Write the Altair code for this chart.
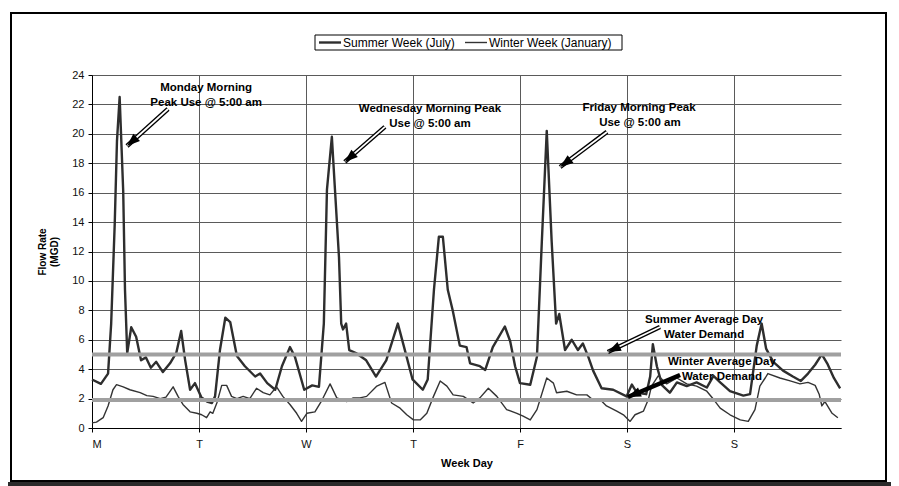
import math
import json
import altair as alt
import pandas as pd

# ---------------- data ----------------
day_labels = ["M", "T", "W", "T", "F", "S", "S"]
series_names = ["Summer Week (July)", "Winter Week (January)"]

summer_hours = [0, 2.0, 3.6, 4.3, 5.1, 5.6, 6.2, 7.0, 7.4, 7.9,
                8.8, 9.9, 11.0, 12.1, 13.2, 14.4, 15.9, 17.5, 18.9, 20.0,
                20.9, 22.0, 23.1, 24.5, 25.8, 26.9, 27.6, 28.7, 29.9, 31.0,
                32.5, 34.3, 36.6, 37.7, 39.3, 41.1, 42.6, 44.4, 45.5, 47.6,
                49.4, 50.9, 52.0, 52.7, 53.8, 54.5, 55.4, 55.9, 56.3, 57.0,
                57.7, 59.2, 61.5, 63.7, 66.0, 68.6, 70.0, 71.9, 74.2, 75.3,
                76.7, 77.8, 78.7, 79.8, 80.9, 82.5, 84.0, 84.8, 87.0, 88.2,
                89.9, 92.6, 93.8, 94.9, 96.0, 98.3, 99.8, 100.9, 102.0, 103.1,
                104.1, 104.8, 106.1, 107.6, 109.0, 110.1, 111.3, 112.4, 114.3, 116.9,
                119.9, 121.1, 122.2, 124.3, 125.2, 125.8, 126.7, 127.9, 129.6, 131.2,
                133.4, 135.6, 137.9, 139.4, 140.9, 143.1, 146.1, 147.6, 149.1, 150.2,
                151.2, 152.8, 155.0, 157.2, 159.0, 160.6, 162.2, 163.7, 164.9, 166.4,
                167.8]
summer_flow = [3.3, 3.0, 3.7, 7.1, 13.9, 19.5, 22.5, 16.1, 9.4, 5.1,
               6.85, 6.2, 4.6, 4.8, 4.1, 4.5, 3.8, 4.4, 5.1, 6.6,
               4.6, 2.6, 3.05, 2.1, 1.8, 1.7, 2.15, 5.3, 7.5, 7.2,
               4.9, 4.2, 3.5, 3.7, 3.05, 2.6, 4.2, 5.5, 4.85, 2.6,
               2.9, 2.8, 7.1, 16.2, 19.8, 16.2, 11.6, 7.1, 6.7, 7.1,
               5.3, 5.1, 4.6, 3.5, 4.6, 7.1, 5.5, 3.3, 2.6, 3.3,
               9.4, 13.0, 13.0, 9.4, 8.0, 5.6, 5.5, 4.4, 4.2, 3.95,
               5.5, 6.9, 5.9, 4.2, 3.05, 2.94, 4.85, 12.7, 20.2, 12.7,
               7.1, 7.75, 5.3, 6.0, 5.3, 5.75, 4.85, 3.9, 2.7, 2.6,
               2.15, 2.95, 2.4, 2.3, 3.5, 5.7, 4.2, 2.9, 2.4, 3.1,
               2.85, 3.1, 2.75, 3.55, 3.1, 2.5, 2.2, 2.3, 5.6, 7.1,
               5.4, 4.5, 3.9, 3.5, 3.2, 3.7, 4.3, 5.0, 4.4, 3.4,
               2.7]

winter_hours = [0, 1.0, 2.5, 3.6, 4.7, 5.5, 7.0, 8.5, 10.8, 12.3,
                13.7, 15.3, 16.6, 18.2, 19.3, 20.4, 22.0, 23.5, 24.6, 25.7,
                26.5, 27.1, 28.0, 29.1, 30.2, 31.3, 32.5, 33.9, 35.4, 36.9,
                38.4, 39.9, 41.4, 42.8, 44.4, 45.9, 47.0, 48.2, 50.0, 51.6,
                53.4, 54.9, 57.1, 58.6, 60.1, 61.6, 63.9, 65.7, 67.2, 69.1,
                70.6, 72.1, 73.6, 75.1, 76.6, 78.1, 79.6, 81.0, 83.3, 85.5,
                87.0, 88.9, 90.8, 93.0, 95.3, 96.7, 98.3, 99.8, 102.0, 103.5,
                104.2, 106.5, 108.7, 111.0, 112.4, 113.9, 115.4, 117.7, 119.2, 120.7,
                121.8, 123.7, 124.8, 125.5, 127.0, 128.9, 131.2, 133.4, 135.6, 137.9,
                139.4, 140.9, 143.1, 145.4, 147.2, 148.7, 149.8, 151.0, 151.6, 154.3,
                156.6, 158.8, 160.6, 162.2, 163.1, 163.7, 164.4, 166.0, 167.3]
winter_flow = [0.35, 0.4, 0.7, 1.5, 2.6, 2.95, 2.8, 2.6, 2.4, 2.2,
               2.15, 2.0, 2.1, 2.8, 2.15, 1.6, 1.1, 1.0, 0.9, 0.7,
               1.1, 1.0, 1.7, 2.9, 2.9, 2.15, 2.0, 2.15, 2.0, 2.7,
               2.4, 2.25, 2.8, 2.15, 1.6, 1.0, 0.45, 1.0, 1.1, 1.9,
               3.0, 2.05, 1.8, 2.05, 2.05, 2.15, 2.85, 3.1, 1.7, 1.35,
               0.9, 0.55, 0.55, 1.0, 2.15, 3.2, 2.85, 2.25, 2.15, 1.7,
               2.05, 2.7, 2.15, 1.25, 1.0, 0.8, 0.55, 1.25, 3.4, 3.05,
               2.4, 2.5, 2.25, 2.25, 1.9, 1.95, 1.5, 1.15, 0.9, 0.45,
               0.9, 1.15, 1.95, 2.85, 3.55, 3.0, 3.4, 3.0, 2.85, 2.5,
               1.95, 1.35, 0.9, 0.55, 0.45, 1.25, 2.85, 3.4, 3.7, 3.4,
               3.2, 3.0, 3.1, 2.9, 2.3, 1.5, 1.8, 1.0, 0.7]

summer_avg = 5.0
winter_avg = 1.9

# annotation texts (centre positions in data units: hour of week, MGD)
note_text = ["Monday Morning", "Peak Use @ 5:00 am",
             "Wednesday Morning Peak", "Use @ 5:00 am",
             "Friday Morning Peak", "Use @ 5:00 am",
             "Summer Average Day", "Water Demand",
             "Winter Average Day", "Water Demand"]
note_hour = [25.6, 25.6, 75.8, 75.8, 122.7, 122.9, 137.3, 137.3, 141.3, 141.3]
note_flow = [23.1, 22.1, 21.7, 20.65, 21.76, 20.74, 7.34, 6.32, 4.49, 3.47]

# arrows: tail -> head (data units)
arrow_h1 = [17.05, 65.7, 115.5, 127.4, 131.9]
arrow_v1 = [21.69, 20.47, 20.13, 6.87, 3.60]
arrow_h2 = [7.85, 56.7, 105.0, 115.7, 120.2]
arrow_v2 = [19.17, 18.09, 17.75, 5.17, 2.11]
arrow_hollow = [True, True, True, True, False]

# ---------------- chart ----------------
W, H = 749, 353
X_MAX, Y_MAX = 168, 24
FONT = "Liberation Sans"
LINE_COLORS = ["#2e2e2e", "#333333"]
LINE_WIDTHS = [2.4, 1.4]

df = pd.DataFrame({
    "hour": summer_hours + winter_hours,
    "flow": summer_flow + winter_flow,
    "series": [series_names[0]] * len(summer_hours) + [series_names[1]] * len(winter_hours),
})

xs = alt.Scale(domain=[0, X_MAX], nice=False, zero=False)
ys = alt.Scale(domain=[0, Y_MAX], nice=False)

label_expr = "%s[round(datum.value / 24)]" % json.dumps(day_labels)

x_axis = alt.Axis(values=[0, 24, 48, 72, 96, 120, 144], labelExpr=label_expr,
                  title="Week Day", grid=True, labelPadding=6, titlePadding=8,
                  titleFontSize=11, titleFontWeight="bold")
y_axis = alt.Axis(values=list(range(0, 25, 2)), title=["Flow Rate", "(MGD)"],
                  grid=True, labelPadding=4, titlePadding=12, labelOverlap=False,
                  titleFontSize=10, titleFontWeight="bold")


def X(field):
    return alt.X(field, scale=xs, axis=x_axis)


def Y(field):
    return alt.Y(field, scale=ys, axis=y_axis)


one = pd.DataFrame({"k": [0]})
frame = alt.Chart(one).mark_rect(filled=False, stroke="black", strokeWidth=2).encode(
    x=alt.value(-81), x2=alt.value(794), y=alt.value(-62), y2=alt.value(406))
band = alt.Chart(one).mark_rect(color="#2a2a2a").encode(
    x=alt.value(-84), x2=alt.value(808), y=alt.value(407), y2=alt.value(414))

# legend (drawn by hand, boxed)
legend_layers = [alt.Chart(one).mark_rect(filled=False, stroke="black", strokeWidth=1).encode(
    x=alt.value(223), x2=alt.value(530), y=alt.value(-40), y2=alt.value(-25))]
for name, lx, tx, lw, lc in zip(series_names, [227, 373], [251, 397], LINE_WIDTHS, LINE_COLORS):
    legend_layers.append(alt.Chart(one).mark_rule(strokeWidth=lw, color=lc).encode(
        x=alt.value(lx), x2=alt.value(lx + 22), y=alt.value(-32.5)))
    legend_layers.append(alt.Chart(one).mark_text(text=name, font=FONT, fontSize=12, align="left",
                                                  baseline="middle", color="black").encode(
        x=alt.value(tx), y=alt.value(-32)))

avg_df = pd.DataFrame({"flow": [summer_avg, winter_avg]})
avg = alt.Chart(avg_df).mark_rule(color="#a0a0a0", strokeWidth=4).encode(y=Y("flow:Q"))

lines = alt.Chart(df).mark_line(strokeJoin="round").encode(
    x=X("hour:Q"),
    y=Y("flow:Q"),
    color=alt.Color("series:N", scale=alt.Scale(domain=series_names, range=LINE_COLORS), legend=None),
    strokeWidth=alt.StrokeWidth("series:N", scale=alt.Scale(domain=series_names, range=LINE_WIDTHS),
                                legend=None),
)

# arrows
angles = []
for h1, v1, h2, v2 in zip(arrow_h1, arrow_v1, arrow_h2, arrow_v2):
    dx = (h2 - h1) * W / X_MAX
    dy = -(v2 - v1) * H / Y_MAX
    angles.append((math.degrees(math.atan2(dx, -dy)) + 360) % 360)
arr_df = pd.DataFrame({"h1": arrow_h1, "v1": arrow_v1, "h2": arrow_h2, "v2": arrow_v2,
                       "angle": angles, "hollow": arrow_hollow})

shaft = alt.Chart(arr_df).mark_rule(color="black", strokeWidth=4.5).encode(
    x=X("h1:Q"), y=Y("v1:Q"), x2="h2:Q", y2="v2:Q")
shaft_in = alt.Chart(arr_df).transform_filter("datum.hollow").mark_rule(
    color="white", strokeWidth=1.8).encode(x=X("h1:Q"), y=Y("v1:Q"), x2="h2:Q", y2="v2:Q")
heads = alt.Chart(arr_df).mark_point(shape="M0,0L-0.75,2L0.75,2Z", filled=True, color="black",
                                     opacity=1, size=170, strokeWidth=0).encode(
    x=X("h2:Q"), y=Y("v2:Q"), angle=alt.Angle("angle:Q", scale=None))

note_df = pd.DataFrame({"t": note_text, "h": note_hour, "v": note_flow})
notes = alt.Chart(note_df).mark_text(font=FONT, fontSize=11.5, fontWeight="bold", color="black",
                                     align="center", baseline="middle").encode(
    x=X("h:Q"), y=Y("v:Q"), text="t:N")

chart = alt.layer(lines, avg, shaft, shaft_in, heads, notes, frame, band, *legend_layers).properties(
    width=W, height=H,
    padding={"left": 84, "top": 67, "right": 50, "bottom": 63},
    autosize="none",
    background="white",
).configure_view(strokeWidth=0).configure_axis(
    labelFont=FONT, titleFont=FONT, labelFontSize=11, labelColor="#111",
    titleColor="black", domainColor="black", tickColor="black", tickSize=4,
    gridColor="#5a5a5a", gridWidth=1,
)

chart.save("out.html", embed_options={"renderer": "svg", "actions": False})
